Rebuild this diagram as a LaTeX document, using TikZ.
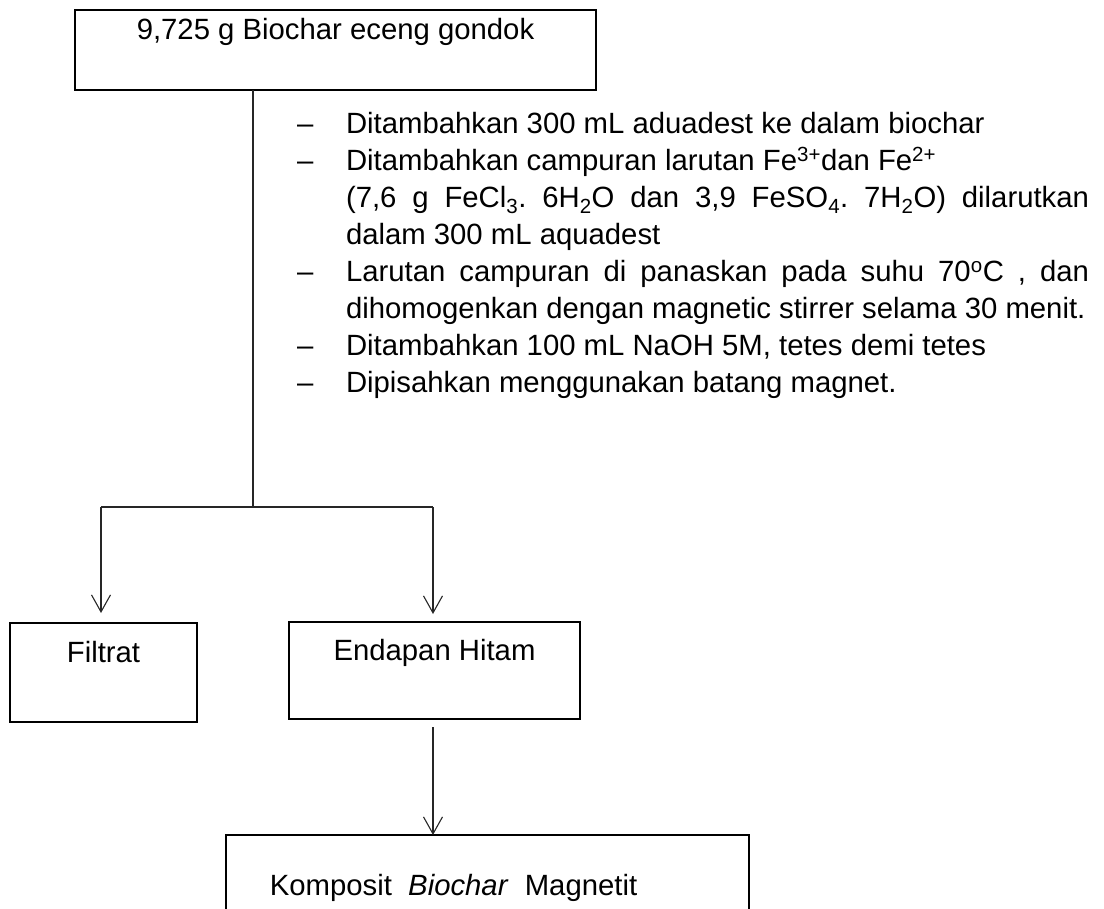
\documentclass[tikz,border=0pt]{standalone}
\usepackage{fontspec}
\setmainfont{Liberation Sans}
\usetikzlibrary{arrows.meta}
\frenchspacing
\newcommand\mysize{\fontsize{29.3}{37}\selectfont}
\begin{document}
\begin{tikzpicture}[x=1pt,y=-1pt,
  box/.style={draw, line width=1.6pt, inner sep=0pt, outer sep=0pt, font=\mysize},
  lbl/.style={inner sep=0pt, outer sep=0pt, font=\mysize},
  conn/.style={line width=1.1pt, draw=black!85},
  arr/.style={conn, -{Straight Barb[length=17pt,width=19pt]}}]
\path[use as bounding box] (0,0) rectangle (1104,909);
\clip (0,0) rectangle (1104,909);
% boxes
\node[box, anchor=base, minimum width=521pt, text height=30pt, text depth=50pt] (top) at (335.5,40) {9,725 g Biochar eceng gondok};
\node[box, anchor=base, minimum width=187pt, text height=39pt, text depth=60pt] (filtrat) at (103.5,662) {Filtrat};
\node[box, anchor=base, minimum width=291pt, text height=38pt, text depth=59pt] (endapan) at (434.5,660) {Endapan Hitam};
\node[box, anchor=north west, minimum width=523pt, minimum height=130pt] (kbox) at (226,835) {};
\node[lbl, anchor=base] (ktext) at (453.5,895) {Komposit\ \ \textit{Biochar}\ \ Magnetit};
% connectors
\coordinate (split) at (253,507);
\coordinate (bl) at (101,507);
\coordinate (br) at (433,507);
\draw[conn] (top.south -| split) -- (split);
\draw[conn] (bl) -- (br);
\draw[arr, shorten >=10pt] (bl) -- (bl |- filtrat.north);
\draw[arr, shorten >=8pt] (br) -- (br |- endapan.north);
\draw[arr, shorten <=8pt] (endapan.south -| br) -- (br |- kbox.north);
% steps text
\node[lbl, anchor=base west] (d1) at (297,134) {–};
\node[lbl, anchor=base west] (l1) at (346,134) {Ditambahkan 300 mL aduadest ke dalam biochar};
\node[lbl, anchor=base west] (d2) at (297,171) {–};
\node[lbl, anchor=base west] (l2) at (346,171) {Ditambahkan campuran larutan Fe\textsuperscript{3+}dan Fe\textsuperscript{2+}};
\node[lbl, anchor=base west] (l3) at (346,208) {\makebox[743pt][s]{(7,6 g FeCl\textsubscript{3}. 6H\textsubscript{2}O dan 3,9 FeSO\textsubscript{4}. 7H\textsubscript{2}O) dilarutkan}};
\node[lbl, anchor=base west] (l4) at (346,245) {dalam 300 mL aquadest};
\node[lbl, anchor=base west] (d5) at (297,282) {–};
\node[lbl, anchor=base west] (l5) at (346,282) {\makebox[743pt][s]{Larutan campuran di panaskan pada suhu 70\textsuperscript{o}C , dan}};
\node[lbl, anchor=base west] (l6) at (346,319) {dihomogenkan dengan magnetic stirrer selama 30 menit.};
\node[lbl, anchor=base west] (d7) at (297,356) {–};
\node[lbl, anchor=base west] (l7) at (346,356) {Ditambahkan 100 mL NaOH 5M, tetes demi tetes};
\node[lbl, anchor=base west] (d8) at (297,393) {–};
\node[lbl, anchor=base west] (l8) at (346,393) {Dipisahkan menggunakan batang magnet.};
\end{tikzpicture}
\end{document}
